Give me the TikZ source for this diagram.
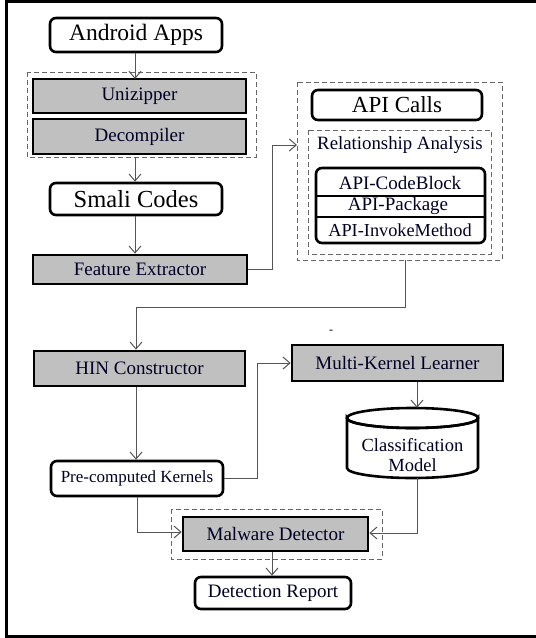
\documentclass[tikz,border=0pt]{standalone}
\usepackage{fontspec}
\setmainfont{Liberation Serif}
\usetikzlibrary{arrows.meta,calc}
\definecolor{boxgray}{HTML}{C0C0C0}
\definecolor{linegray}{HTML}{555555}
\definecolor{dashgray}{HTML}{666666}
\tikzset{
  px/.style={x=1pt,y=-1pt},
  rbox/.style={draw=black,line width=2.6pt,rounded corners=6pt,fill=white,inner sep=0pt},
  gbox/.style={draw=black,line width=2.6pt,fill=boxgray,inner sep=0pt},
  dbox/.style={draw=dashgray,dashed,dash pattern=on 5pt off 3pt,line width=1pt},
  conn/.style={draw=linegray,line width=1pt,-{Straight Barb[length=7pt,width=12pt]}},
  txt/.style={font=\fontsize{19}{21}\selectfont,text=black!85!blue}
}
\begin{document}
\begin{tikzpicture}[px]
\useasboundingbox (0,0) rectangle (536,638);
% frame
\draw[black,line width=3pt] (536,1.3) -- (6.5,1.3) -- (6.5,636) -- (536,636);

% dashed groups
\path[dbox] (27,72) rectangle (256,157);
\path[dbox] (297,82) rectangle (502,260);
\path[dbox] (308,130) rectangle (491,254);
\path[dbox] (171,509) rectangle (382,559);

% nodes
\node[rbox,minimum width=172pt,minimum height=34pt,font=\fontsize{23.5}{25}\selectfont] (android) at (136,35) {Android Apps};
\node[gbox,minimum width=213pt,minimum height=34pt,txt] (unzip) at (139.5,96) {Unizipper};
\node[gbox,minimum width=213pt,minimum height=35pt,txt] (decomp) at (139.5,136.5) {Decompiler};
\node[rbox,minimum width=172pt,minimum height=32pt,font=\fontsize{24.5}{26}\selectfont] (smali) at (136,199) {Smali Codes};
\node[gbox,minimum width=214pt,minimum height=29pt,txt] (feat) at (140,269.5) {Feature Extractor};

\node[rbox,minimum width=170pt,minimum height=30pt,font=\fontsize{23}{25}\selectfont] (api) at (397,105) {API Calls};
\node[txt,font=\fontsize{18.8}{20}\selectfont,inner sep=0pt] (rel) at (400,145) {Relationship Analysis};
\node[rbox,minimum width=169pt,minimum height=75pt] (rows) at (400.5,205.5) {};
\draw[black,line width=1.8pt] (rows.west |- 0,196) -- (rows.east |- 0,196);
\draw[black,line width=1.8pt] (rows.west |- 0,217) -- (rows.east |- 0,217);
\node[txt,inner sep=0pt] (r1) at (400,183) {API-CodeBlock};
\node[txt,inner sep=0pt] (r2) at (398,206) {API-Package};
\node[txt,inner sep=0pt,font=\fontsize{18.3}{20}\selectfont] (r3) at (400,230) {API-InvokeMethod};

\node[gbox,minimum width=211pt,minimum height=35pt,txt] (hin) at (139.5,368.5) {HIN Constructor};
\node[font=\fontsize{12}{12}\selectfont,inner sep=0pt] (dashmark) at (331,332) {-};
\node[gbox,minimum width=211pt,minimum height=36pt,txt] (mkl) at (397.5,363) {Multi-Kernel Learner};

% cylinder
\path[draw=black,line width=2.6pt,fill=white]
  (347,418) -- (347,468) arc[start angle=180,end angle=0,x radius=65.5,y radius=10] -- (478,418)
  arc[start angle=0,end angle=180,x radius=65.5,y radius=10] -- cycle;
\draw[black,line width=2.6pt] (412.5,418) ellipse[x radius=65.5,y radius=10];
\node[minimum width=131pt,minimum height=70pt,inner sep=0pt] (cls) at (412.5,443) {};
\node[txt,align=center,inner sep=0pt,font=\fontsize{18.5}{19.5}\selectfont] (clstxt) at (412.5,455) {Classification\\Model};

\node[rbox,minimum width=172pt,minimum height=35pt,font=\fontsize{17}{19}\selectfont,text=black!85!blue] (pre) at (137,478.5) {Pre-computed Kernels};
\node[gbox,minimum width=185pt,minimum height=34pt,txt] (mal) at (275.5,534) {Malware Detector};
\node[rbox,minimum width=156pt,minimum height=32pt,txt] (rep) at (273,593) {Detection Report};

% connectors
\draw[conn] (android.south -| 135,0) -- (135,79);
\draw[conn] (135,157) -- (smali.north -| 135,0);
\draw[conn] (smali.south -| 135,0) -- (feat.north -| 135,0);
\draw[conn] (feat.east) -- (272,269.5) -- (272,145) -- (297,145);
\draw[conn] (405,260) -- (405,307) -- (136,307) -- (hin.north -| 136,0);
\draw[conn] (hin.south -| 136,0) -- (pre.north -| 136,0);
\draw[conn] (pre.east) -- (257,478.5) -- (257,363) -- (mkl.west);
\draw[conn] (mkl.south -| 417,0) -- (cls.north -| 417,0);
\draw[conn] (pre.south -| 137,0) -- (137,532) -- (mal.west |- 0,532);
\draw[conn] (cls.south -| 417,0) -- (417,533) -- (mal.east |- 0,533);
\draw[conn] (mal.south -| 272,0) -- (rep.north -| 272,0);
\end{tikzpicture}
\end{document}
